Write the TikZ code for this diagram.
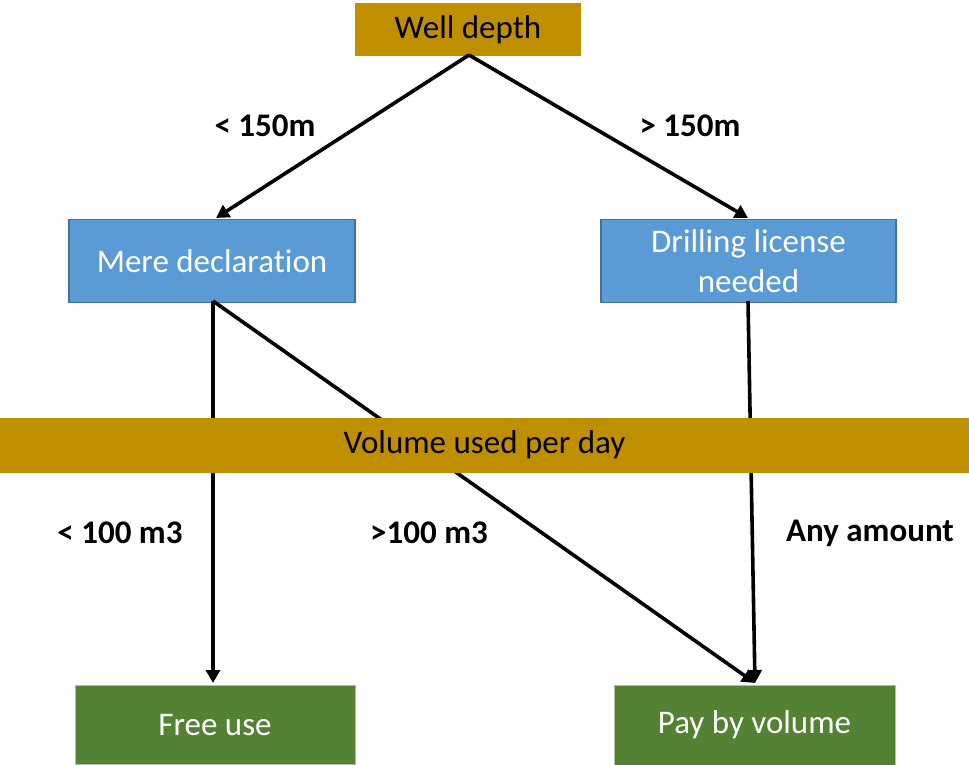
\documentclass[tikz,border=0pt]{standalone}
\usepackage{fontspec}
\setmainfont{Carlito}[RawFeature={-liga;-clig;-calt;-dlig}]
\usetikzlibrary{arrows.meta}
\definecolor{gold}{HTML}{BF8F00}
\definecolor{bluef}{HTML}{5B9BD5}
\definecolor{blued}{HTML}{41719C}
\definecolor{greenf}{HTML}{548235}
\definecolor{greend}{HTML}{A9C49A}
\begin{document}
\begin{tikzpicture}[x=1pt,y=-1pt,
  box/.style={inner sep=0pt, align=center, font=\fontsize{33}{40}\selectfont},
  goldbox/.style={box, fill=gold, text=black},
  bluebox/.style={box, fill=bluef, draw=blued, line width=1.5pt, text=white},
  greenbox/.style={box, fill=greenf, draw=greend, line width=0.8pt, text=white},
  conn/.style={line width=3.6pt, -{Triangle[width=14pt,length=13pt]}},
  lbl/.style={font=\fontsize{33}{40}\selectfont\bfseries}]
\useasboundingbox (0,0) rectangle (969,765);
% nodes
\node[goldbox, minimum width=226pt, minimum height=53pt] (well) at (468,30) {Well depth};
\node[bluebox, minimum width=286pt, minimum height=83pt] (mere) at (212,261) {Mere declaration};
\node[bluebox, minimum width=295pt, minimum height=83pt] (drill) at (748.5,261) {Drilling license\\needed};
\node[greenbox, minimum width=280pt, minimum height=79pt] (free) at (215,725) {Free use};
\node[greenbox, minimum width=281pt, minimum height=80pt] (pay) at (754.5,725) {Pay by volume};
\coordinate (wb) at (469,55);
\coordinate (mt) at (216,218);
\coordinate (dt) at (748,218);
\coordinate (mb) at (213,301);
\coordinate (db) at (748,301);
\coordinate (ft) at (213,683);
\coordinate (pt) at (755,683);
% connectors
\draw[conn] (wb) -- (mt);
\draw[conn] (wb) -- (dt);
\draw[conn] (mb) -- (ft);
\draw[conn] (mb) -- (pt);
\draw[conn] (db) -- (pt);
% bar on top
\node[goldbox, minimum width=969pt, minimum height=55pt] (vol) at (484.5,445) {Volume used per day};
% labels
\node[lbl] (l1) at (265,126) {< 150m};
\node[lbl] (l2) at (690,126) {> 150m};
\node[lbl] (l3) at (120,533) {< 100 m3};
\node[lbl] (l4) at (429,533) {>100 m3};
\node[lbl] (l5) at (870,533) {Any amount};
\end{tikzpicture}
\end{document}
